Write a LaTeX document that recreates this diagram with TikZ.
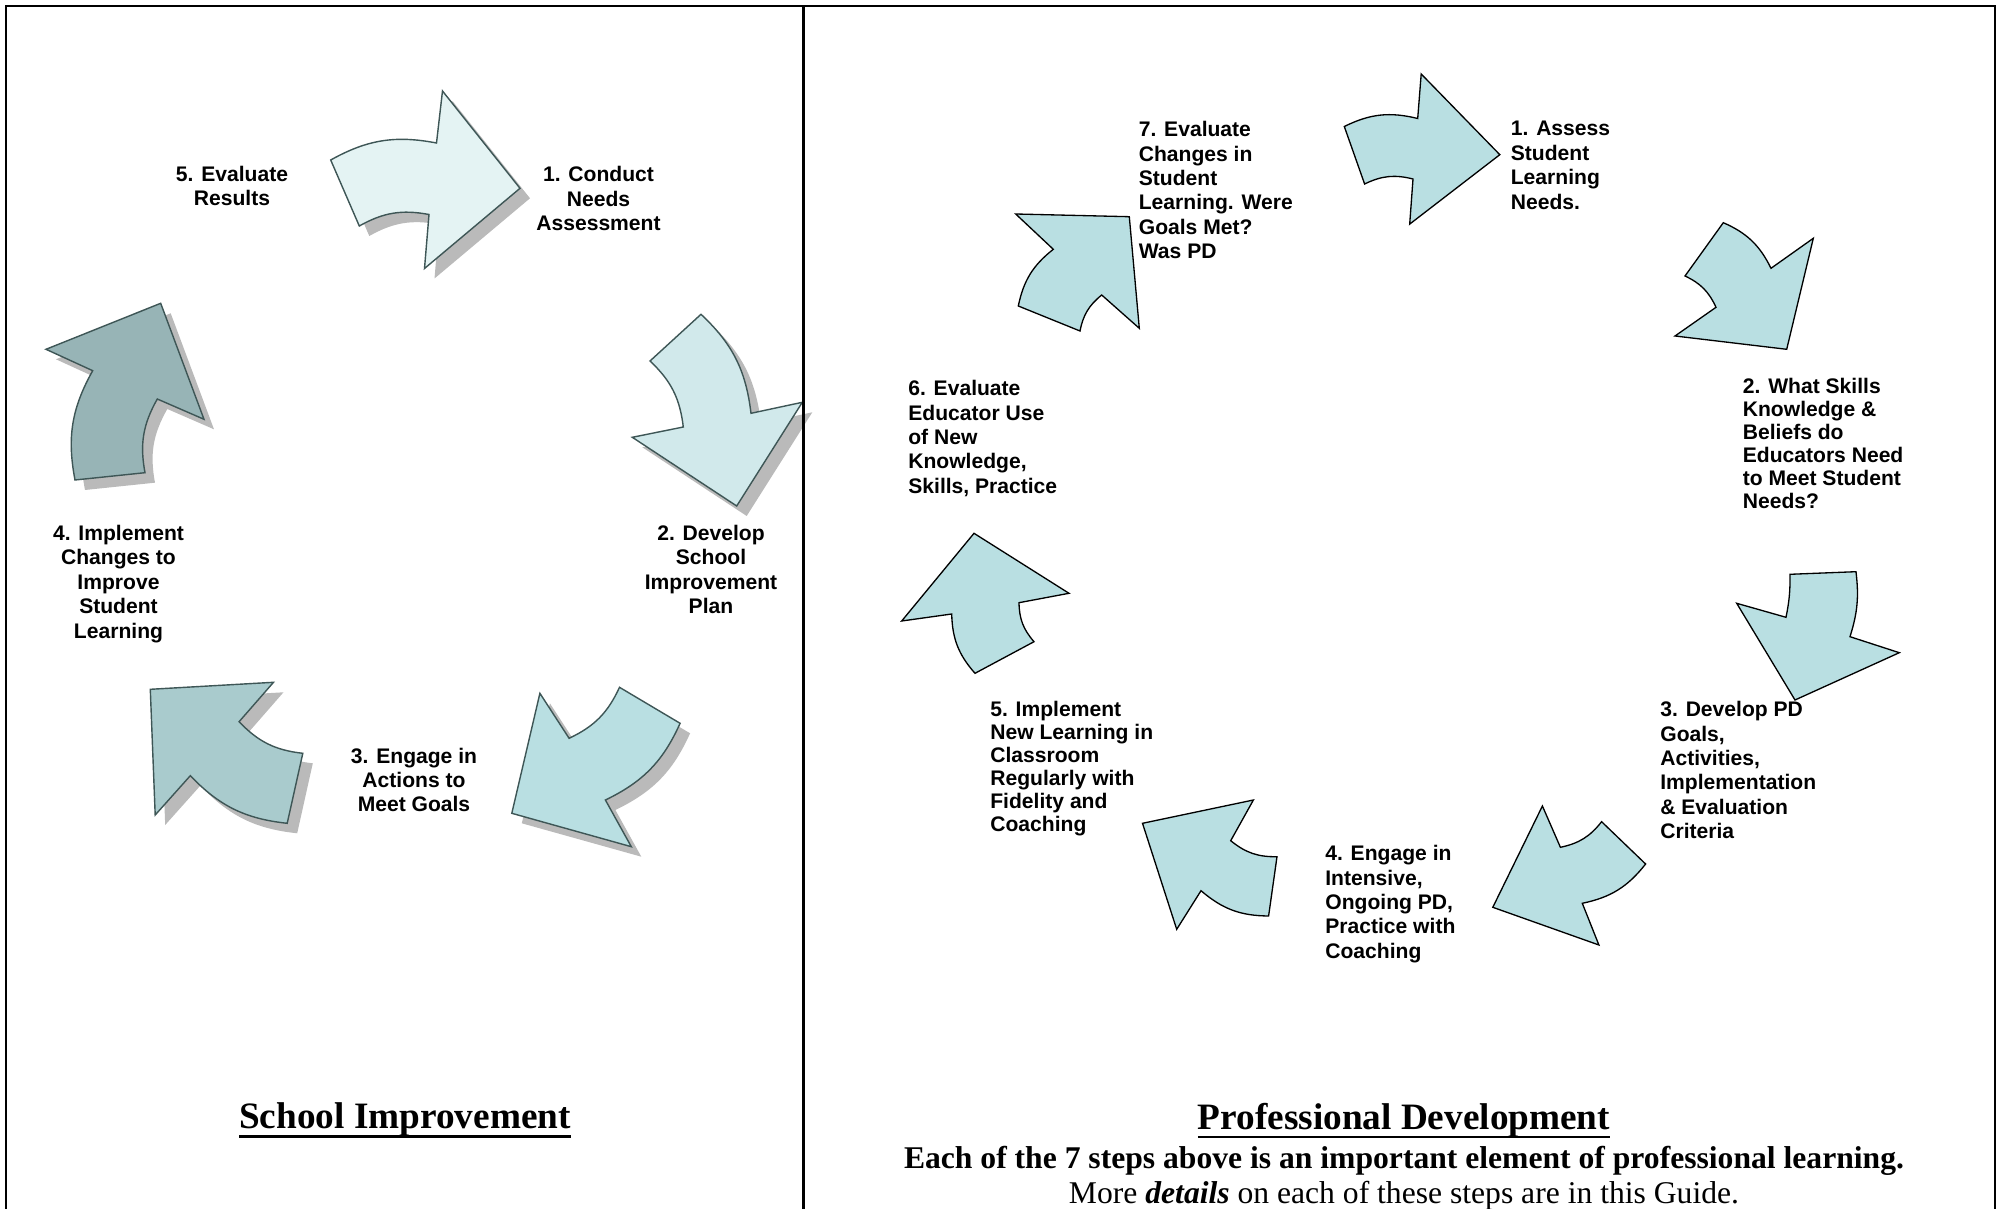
\documentclass[tikz,border=0pt]{standalone}
\usepackage{fontspec}
\setmainfont{Liberation Serif}
\newfontfamily\arialfont{Liberation Sans}
\usetikzlibrary{shadows}

\definecolor{siA}{HTML}{E4F3F3}
\definecolor{siB}{HTML}{D1E9EB}
\definecolor{siC}{HTML}{B9DFE2}
\definecolor{siD}{HTML}{A9CBCD}
\definecolor{siE}{HTML}{97B4B6}
\definecolor{siline}{HTML}{3E5656}
\definecolor{pdfill}{HTML}{B9DFE2}

% underline drawn just under the descenders
\newcommand{\titleline}[1]{\setbox0=\hbox{#1}\rlap{\rule[\dimexpr-\dp0-0.8pt\relax]{\wd0}{1.6pt}}\box0}

\begin{document}
\begin{tikzpicture}[x=0.02cm, y=-0.02cm,
        frame/.style={line width=1.3pt},
        si arrow/.style={draw=siline, line width=0.8pt,
            drop shadow={shadow xshift=0.2cm, shadow yshift=-0.2cm, fill=black!27, opacity=1}},
        pd arrow/.style={draw=black, line width=0.75pt, fill=pdfill},
        step text/.style={font=\arialfont\bfseries\fontsize{12}{13.9}\selectfont, inner sep=0pt},
        si label/.style={step text, align=center},
        pd label/.style={step text, align=left, anchor=north west},
        pd tight/.style={font=\arialfont\bfseries\fontsize{12}{13.1}\selectfont},
        panel title/.style={font=\bfseries\fontsize{21.2}{25}\selectfont, inner sep=0pt, anchor=base},
        note/.style={font=\fontsize{18}{21}\selectfont, inner sep=0pt, anchor=base},
        bold note/.style={note, font=\bfseries\fontsize{18}{21}\selectfont}]

    \useasboundingbox (0,0) rectangle (1999,1209);

    % School improvement cycle
    \draw[si arrow, fill=siA] (330.7,160) to[bend left=20] (436.5,143) -- (442.5,91) -- (520,188.3)
        -- (424.5,268.5) -- (429,214.5) to[bend right=20] (359.3,226) -- cycle;
    \draw[si arrow, fill=siB] (701,314.3) to[bend left=20] (751,413.3) -- (802.3,402.3) -- (736.7,506)
        -- (632.3,437.3) -- (683.3,427) to[bend right=20] (650,361) -- cycle;
    \draw[si arrow, fill=siC] (539.9,693.3) -- (569.1,738.3) to[bend right=20] (619.5,687.3)
        -- (680.1,723.3) to[bend left=20] (605.4,800) -- (631.3,846.7) -- (511.8,813.3) -- cycle;
    \draw[si arrow, fill=siD] (150.3,689.3) -- (273.5,682.3) -- (239.1,721.7) to[bend right=20] (302.8,753.3)
        -- (287.2,823.3) to[bend left=20] (190.3,775.7) -- (155.2,815) -- cycle;
    \draw[si arrow, fill=siE] (160.7,303.3) -- (204,419.3) -- (157.3,399) to[bend right=20] (145,472.7)
        -- (75,480) to[bend left=20] (92.7,370.7) -- (46,349.3) -- cycle;

    \node[si label] (si1) at (598.5,198.5) {1. Conduct\\Needs\\Assessment};
    \node[si label] (si2) at (711,569.5) {2. Develop\\School\\Improvement\\Plan};
    \node[si label] (si3) at (414,780) {3. Engage in\\Actions to\\Meet Goals};
    \node[si label] (si4) at (118.5,584) {4. Implement\\Changes to\\Improve\\Student\\Learning};
    \node[si label] (si5) at (232,186) {5. Evaluate\\Results};

    % Professional development cycle
    \draw[pd arrow] (1344.3,126.5) to[bend left=20] (1417.7,118.5) -- (1421.2,74) -- (1499.8,154.7)
        -- (1409.7,224.1) -- (1413,179) to[bend right=20] (1364.6,184) -- cycle;
    \draw[pd arrow] (1723.3,222.7) to[bend left=20] (1771,268.3) -- (1813.3,238.3) -- (1786.7,349.3)
        -- (1675,336) -- (1716,307.3) to[bend right=20] (1685,276) -- cycle;
    \draw[pd arrow] (1786,617.3) to[bend right=6] (1790,574.3) -- (1856,571.7) to[bend left=12] (1850,636.7)
        -- (1899.3,652.7) -- (1795,700) -- (1736.7,603.3) -- cycle;
    \draw[pd arrow] (1542.4,806) -- (1560.4,847.3) to[bend right=20] (1601.6,821.7)
        -- (1645.6,864) to[bend left=20] (1582.3,903.3) -- (1598.9,945) -- (1492.8,907.3) -- cycle;
    \draw[pd arrow] (1142.5,823.3) -- (1253.4,800) -- (1230.7,840.7) to[bend right=20] (1277,856.7)
        -- (1268.6,916) to[bend left=20] (1201,890.7) -- (1176.7,929.3) -- cycle;
    \draw[pd arrow] (974,533.3) -- (1069,593.3) -- (1019,602.7) to[bend right=20] (1034,641.7)
        -- (975,673.3) to[bend left=20] (951.7,614) -- (901.7,621) -- cycle;
    \draw[pd arrow] (1015.7,214) -- (1129.3,216.7) -- (1139.3,328.3) -- (1101.7,295) to[bend right=20] (1080,331)
        -- (1018.3,306) to[bend left=20] (1053.3,249.3) -- cycle;

    \node[pd label] (pd1) at (1510.5,121) {1. Assess\\Student\\Learning\\Needs.};
    \node[pd label, pd tight] (pd2) at (1742.5,377.5) {2. What Skills\\Knowledge \&\\Beliefs do\\Educators Need\\to Meet Student\\Needs?};
    \node[pd label] (pd3) at (1660,701) {3. Develop PD\\Goals,\\Activities,\\Implementation\\\& Evaluation\\Criteria};
    \node[pd label] (pd4) at (1325,845) {4. Engage in\\Intensive,\\Ongoing PD,\\Practice with\\Coaching};
    \node[pd label, pd tight] (pd5) at (990,700.5) {5. Implement\\New Learning in\\Classroom\\Regularly with\\Fidelity and\\Coaching};
    \node[pd label] (pd6) at (908,380) {6. Evaluate\\Educator Use\\of New\\Knowledge,\\Skills, Practice};
    \node[pd label] (pd7) at (1138.5,121) {7. Evaluate\\Changes in\\Student\\Learning. Were\\Goals Met?\\Was PD};

    % Frame and captions
    \draw[frame] (6,1209) -- (6,6) -- (1995,6) -- (1995,1209);
    \draw[frame] (803.5,6) -- (803.5,1209);

    \node[panel title] (sititle) at (405,1128.5) {\titleline{School Improvement}};
    \node[panel title] (pdtitle) at (1404,1129) {\titleline{Professional Development}};
    \node[bold note] (pdnote) at (1404,1168) {Each of the 7 steps above is an important element of professional learning.};
    \node[note] (pdmore) at (1404,1203.5) {More \textbf{\textit{details}} on each of these steps are in this Guide.};
\end{tikzpicture}
\end{document}
